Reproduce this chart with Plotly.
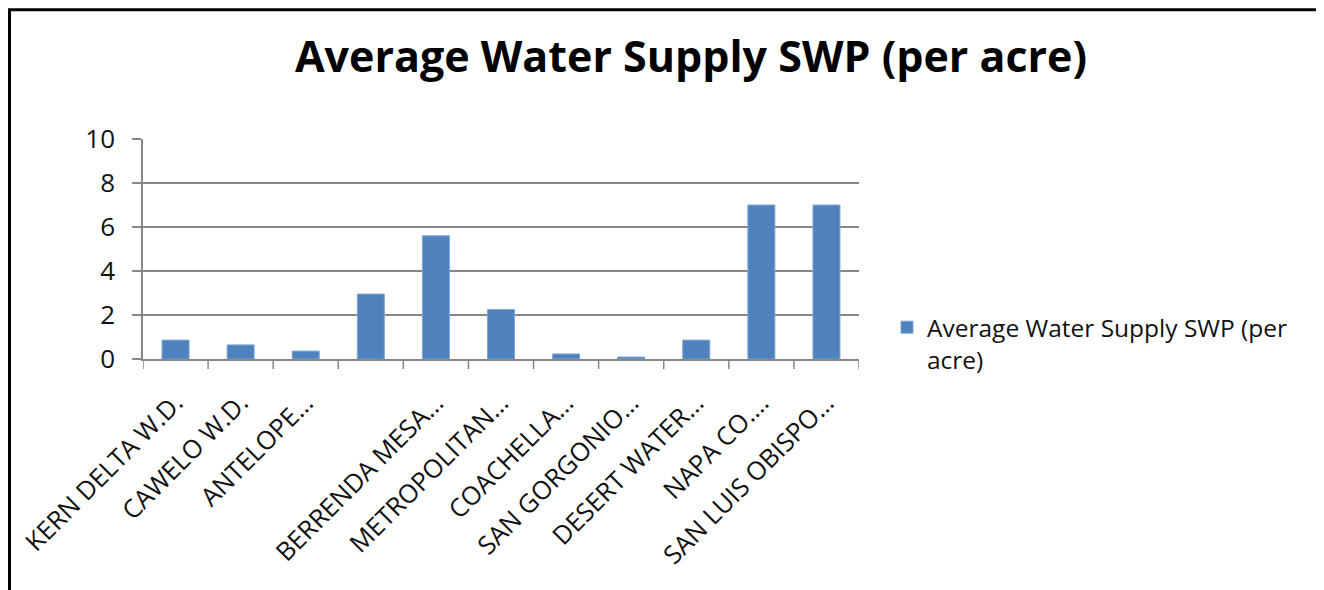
import plotly.graph_objects as go

categories = [
    "KERN DELTA W.D.", "CAWELO W.D.", "ANTELOPE…", "\u200b", "BERRENDA MESA…",
    "METROPOLITAN…", "COACHELLA…", "SAN GORGONIO…", "DESERT WATER…",
    "NAPA CO.…", "SAN LUIS OBISPO…",
]
values = [0.86, 0.64, 0.36, 2.95, 5.6, 2.25, 0.23, 0.09, 0.86, 7.0, 7.0]
series_name = "Average Water Supply SWP (per<br>acre)"
title_text = "Average Water Supply SWP (per acre)"
y_ticks = [0, 2, 4, 6, 8, 10]

# page has an 8px body margin: work in page pixels, convert to figure pixels
OFF = 8
W, H = 1324 - OFF, 590 - OFF
L, R = 143 - OFF, 859 - OFF
T, B = 139.0 - OFF, 359.3 - OFF

def px_to_paper_x(px):
    return (px - OFF - L) / (R - L)

def px_to_paper_y(py):
    return (B - (py - OFF)) / (B - T)

fig = go.Figure()
fig.add_trace(go.Bar(
    x=list(range(len(categories))),
    y=values,
    name=series_name,
    marker=dict(color="#4F81BD", line=dict(color="#7FA6D6", width=1)),
    showlegend=True,
))

fig.update_layout(
    width=W, height=H,
    template=None,
    paper_bgcolor="white",
    plot_bgcolor="white",
    margin=dict(l=L, r=W - R, t=T, b=H - B, autoexpand=False),
    bargap=0.585,
    font=dict(family="Open Sans", color="#111111", size=24),
    title=dict(
        text=title_text,
        x=(691 - OFF) / W, xanchor="center",
        y=1 - (57 - OFF) / H, yanchor="middle", yref="container",
        font=dict(family="Open Sans", size=43, color="#000000", weight="bold"),
    ),
    showlegend=True,
    legend=dict(
        x=px_to_paper_x(887), xanchor="left",
        y=px_to_paper_y(305), yanchor="top",
        valign="top",
        font=dict(size=24.5, color="#111111"),
        bgcolor="rgba(0,0,0,0)",
        itemwidth=30,
    ),
    xaxis=dict(
        type="linear",
        range=[-0.5, len(categories) - 0.5],
        tickmode="array",
        tickvals=list(range(len(categories))),
        ticktext=categories,
        tickangle=-45,
        ticks="",
        showgrid=False,
        showline=True, linecolor="#868686", linewidth=1.5,
        zeroline=False,
        automargin=False,
        ticklabelstandoff=17,
        tickfont=dict(size=25.5, color="#111111"),
    ),
    yaxis=dict(
        range=[0, 10],
        tickvals=y_ticks,
        ticks="outside", ticklen=9, tickcolor="#868686", tickwidth=1.5,
        showgrid=True, gridcolor="#868686", gridwidth=1.5,
        showline=True, linecolor="#868686", linewidth=1.5,
        zeroline=False,
        automargin=False,
        ticklabelstandoff=12,
        tickfont=dict(size=26, color="#111111"),
    ),
)

# category boundary tick marks on the x axis
for i in range(len(categories) + 1):
    fig.add_shape(
        type="line", xref="x", yref="paper",
        x0=i - 0.5, x1=i - 0.5, y0=0, y1=px_to_paper_y(359.3 + 10),
        line=dict(color="#868686", width=1.5),
    )

# outer black border (kept inside the figure's drawable area)
fig.add_shape(
    type="rect", xref="paper", yref="paper",
    x0=px_to_paper_x(OFF + 1.5), x1=px_to_paper_x(1319.5),
    y0=px_to_paper_y(620), y1=px_to_paper_y(OFF + 1.5),
    line=dict(color="black", width=3),
    fillcolor="rgba(0,0,0,0)",
    layer="above",
)

fig.write_html("out.html")
